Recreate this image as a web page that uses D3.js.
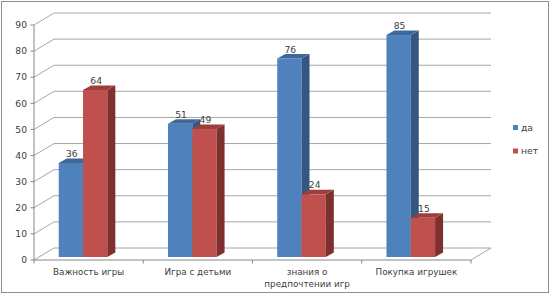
<!DOCTYPE html>
<html><head><meta charset="utf-8">
<script src="https://cdn.jsdelivr.net/npm/d3@7"></script>
<style>body{margin:0;background:#fff}svg{display:block}text{font-family:"DejaVu Sans",Verdana,sans-serif}</style>
</head><body>
<svg id="c" width="554" height="295"></svg>
<script>
const categories = [["Важность игры"], ["Игра с детьми"], ["знания о", "предпочтении игр"], ["Покупка игрушек"]];
const seriesNames = ["да", "нет"];
const yes = [36, 51, 76, 85];
const no = [64, 49, 24, 15];
const yTicks = [0, 10, 20, 30, 40, 50, 60, 70, 80, 90];

const svg = d3.select("#c");
const colors = {
  front: ["#4F81BD", "#C0504D"],
  side: ["#34577F", "#7E302E"],
  top: ["#3E679A", "#9C3E3B"]
};
const wallDx = 20, wallDy = -12;
const barDx = 8, barDy = -4.5;

svg.append("rect").attr("x", 1.5).attr("y", 1.5).attr("width", 547).attr("height", 291)
  .attr("fill", "#fff").attr("stroke", "#8e8e8e").attr("stroke-width", 1);

const y = d3.scaleLinear().domain([0, 90]).range([260, 25]);
const x = d3.scaleBand().domain(d3.range(categories.length)).range([34, 471]);
const gridColor = "#a6a6a6", axisColor = "#868686";

const g = svg.append("g");
yTicks.forEach(v => {
  g.append("line").attr("x1", 34 + wallDx).attr("x2", 471 + wallDx)
    .attr("y1", y(v) + wallDy).attr("y2", y(v) + wallDy)
    .attr("stroke", gridColor).attr("stroke-width", 1);
  g.append("line").attr("x1", 34).attr("x2", 34 + wallDx)
    .attr("y1", y(v)).attr("y2", y(v) + wallDy)
    .attr("stroke", gridColor).attr("stroke-width", 1);
  g.append("line").attr("x1", 30.5).attr("x2", 34).attr("y1", y(v)).attr("y2", y(v))
    .attr("stroke", axisColor);
  g.append("text").attr("x", 27).attr("y", y(v)).attr("dy", "0.35em")
    .attr("text-anchor", "end").attr("font-size", 9.2).attr("fill", "#404040").text(v);
});
g.append("line").attr("x1", 471).attr("y1", y(0)).attr("x2", 471 + wallDx).attr("y2", y(0) + wallDy)
  .attr("stroke", gridColor);
g.append("line").attr("x1", 34).attr("x2", 34).attr("y1", y(90)).attr("y2", y(0)).attr("stroke", axisColor);
g.append("line").attr("x1", 34).attr("x2", 471).attr("y1", y(0)).attr("y2", y(0)).attr("stroke", axisColor);
d3.range(categories.length + 1).forEach(i => {
  const xx = i < categories.length ? x(i) : 471;
  g.append("line").attr("x1", xx).attr("x2", xx).attr("y1", y(0)).attr("y2", y(0) + 3.5).attr("stroke", axisColor);
});
categories.forEach((lines, i) => {
  const t = g.append("text").attr("x", x(i) + x.bandwidth() / 2).attr("y", 275)
    .attr("text-anchor", "middle").attr("font-size", 8.8).attr("fill", "#404040");
  lines.forEach((l, k) => t.append("tspan").attr("x", x(i) + x.bandwidth() / 2).attr("dy", k ? 11.5 : 0).text(l));
});

const barW = 24.3, shift = -5.6, baseOff = -3;
const vals = [yes, no];
categories.forEach((c, i) => {
  const cx = x(i) + x.bandwidth() / 2 + shift;
  [0, 1].forEach(s => {
    const v = vals[s][i];
    const x0 = cx + (s === 0 ? -barW : 0), x1 = x0 + barW;
    const yt = y(v) + baseOff, yb = y(0) + baseOff;
    g.append("rect").attr("x", x0).attr("y", yt).attr("width", barW).attr("height", yb - yt)
      .attr("fill", colors.front[s]);
    g.append("path").attr("d", `M${x1},${yt}L${x1 + barDx},${yt + barDy}L${x1 + barDx},${yb + barDy}L${x1},${yb}Z`)
      .attr("fill", colors.side[s]);
    g.append("path").attr("d", `M${x0},${yt}L${x0 + barDx},${yt + barDy}L${x1 + barDx},${yt + barDy}L${x1},${yt}Z`)
      .attr("fill", colors.top[s]);
    g.append("text").attr("x", (x0 + x1) / 2 + 1).attr("y", yt + barDy - 1.5)
      .attr("text-anchor", "middle").attr("font-size", 9.2).attr("fill", "#404040").text(v);
  });
});

seriesNames.forEach((n, s) => {
  const ly = s === 0 ? 127.5 : 151;
  svg.append("rect").attr("x", 513).attr("y", ly - 2.5).attr("width", 5).attr("height", 5).attr("fill", colors.front[s]);
  svg.append("text").attr("x", 521).attr("y", ly).attr("dy", "0.35em").attr("font-size", 9.2).attr("fill", "#404040").text(n);
});
</script>
</body></html>
